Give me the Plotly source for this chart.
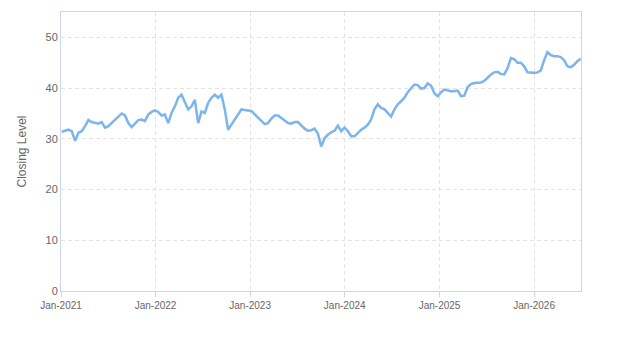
import pandas as pd
import plotly.graph_objects as go

# Closing levels (roughly every 13 days, Jan-2021 .. Jun-2026)
start_date = "2021-01-04"
end_date = "2026-06-30"
closing_level = [
    31.4, 31.6, 31.8, 31.5, 29.6, 31.2, 31.5, 32.5, 33.7, 33.3,
    33.1, 33.0, 33.3, 32.2, 32.5, 33.1, 33.8, 34.4, 35.0, 34.6,
    33.1, 32.3, 33.1, 33.7, 33.8, 33.5, 34.8,
    35.3, 35.6, 35.3, 34.6, 34.8, 33.1, 35.1, 36.4, 38.1, 38.7,
    37.4, 35.8, 36.4, 37.7, 33.1, 35.4, 35.1, 37.1, 38.1, 38.7,
    38.1, 38.7, 35.8, 31.8, 32.8, 33.8,
    34.8, 35.8, 35.7, 35.6, 35.5, 34.8, 34.2, 33.6, 32.9, 33.1,
    34.0, 34.6, 34.6, 34.1, 33.6, 33.1, 33.0, 33.3, 33.3, 32.6,
    32.0, 31.6, 31.7, 32.0, 31.0, 28.5, 30.1, 30.8, 31.3, 31.6,
    32.6, 31.5, 32.2, 31.5, 30.5, 30.5, 31.2, 31.8, 32.2, 32.8,
    33.8, 35.8, 36.8, 36.1, 35.8, 35.1, 34.4, 35.8, 36.8, 37.4,
    38.1, 39.2, 40.0, 40.7, 40.6, 39.9, 40.0, 40.9, 40.5, 39.0,
    38.4, 39.2, 39.7, 39.5, 39.4, 39.4, 39.5, 38.4, 38.5, 40.2,
    40.8, 41.0, 41.0, 41.1, 41.4, 42.0, 42.7, 43.1, 43.2, 42.8,
    42.7, 43.9, 45.9, 45.7, 45.0, 45.0, 44.3, 43.1, 43.0, 43.0,
    43.1, 43.5, 45.5, 47.1, 46.5, 46.3, 46.3, 46.1, 45.5, 44.3,
    44.1, 44.6, 45.3, 45.8,
]
dates = pd.date_range(start_date, end_date, periods=len(closing_level))

y_title = "Closing Level"
x_tick_format = "%b-%Y"

fig = go.Figure()
fig.add_trace(go.Scatter(
    x=dates, y=closing_level, mode="lines",
    line=dict(color="#7cb5ec", width=2.5),
    hoverinfo="x+y", showlegend=False,
))

axis_line = "#ccd6eb"
grid = "#e3e3e3"
fig.update_layout(
    width=623, height=350,
    margin=dict(l=61, r=42, t=12, b=59),
    paper_bgcolor="white", plot_bgcolor="white",
    font=dict(family="Liberation Sans, Arial, sans-serif", color="#666666"),
    xaxis=dict(
        type="date", range=["2021-01-01", "2026-07-01"],
        tick0="2021-01-01", dtick="M12", tickformat=x_tick_format,
        showgrid=True, gridcolor=grid, griddash="4px,3px", gridwidth=1,
        showline=True, linecolor=axis_line, linewidth=1, mirror=True,
        ticks="outside", ticklen=5, tickcolor=axis_line,
        tickfont=dict(size=10, color="#666666"), zeroline=False,
    ),
    yaxis=dict(
        range=[0, 55], tick0=0, dtick=10,
        showgrid=True, gridcolor=grid, griddash="4px,3px", gridwidth=1,
        showline=True, linecolor=axis_line, linewidth=1, mirror=True,
        ticks="", tickfont=dict(size=11, color="#666666"), zeroline=False,
        title=dict(text=y_title, font=dict(size=12, color="#666666"), standoff=16),
    ),
)

fig.write_html("out.html")
